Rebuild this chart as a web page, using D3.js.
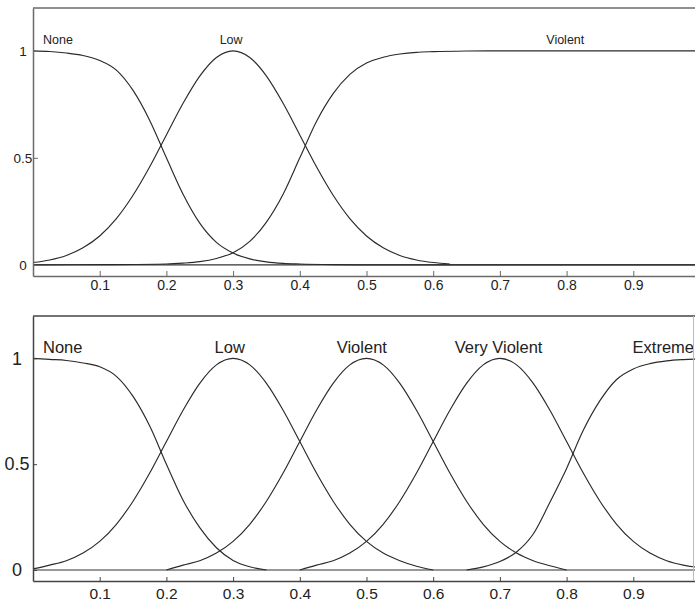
<!DOCTYPE html>
<html>
<head>
<meta charset="utf-8">
<script src="https://cdn.jsdelivr.net/npm/d3@7"></script>
<style>
    body { margin: 0; background: #fff; }
    svg { display: block; }
    text { font-family: Arial, "Liberation Sans", sans-serif; fill: #222; }
</style>
</head>
<body>
<div id="chart"></div>
<script>
// ---- data ----

// shared x ticks and y ticks
const xTicks = [0.1, 0.2, 0.3, 0.4, 0.5, 0.6, 0.7, 0.8, 0.9];
const yTicks = [0, 0.5, 1];

// top panel: three membership functions
const topNames = ["None", "Low", "Violent"];
const topLabelX = [0.015, 0.297, 0.798];   // where each name sits (x value)
const noneTopX = [0, 0.025, 0.05, 0.075, 0.1, 0.125, 0.15, 0.175, 0.2, 0.225, 0.25, 0.275, 0.3, 0.325, 0.35, 0.375, 0.4, 0.45, 0.5, 0.6, 0.7, 0.8, 0.9, 1.0];
const noneTopY = [1.0, 0.997, 0.99, 0.978, 0.955, 0.91, 0.815, 0.675, 0.5, 0.33, 0.195, 0.105, 0.055, 0.028, 0.014, 0.007, 0.004, 0.001, 0, 0, 0, 0, 0, 0];
const lowTopX = [0, 0.025, 0.05, 0.075, 0.1, 0.125, 0.15, 0.175, 0.2, 0.225, 0.25, 0.275, 0.3, 0.325, 0.35, 0.375, 0.4, 0.425, 0.45, 0.475, 0.5, 0.525, 0.55, 0.575, 0.6, 0.625];
const lowTopY = [0.011, 0.023, 0.044, 0.08, 0.135, 0.216, 0.325, 0.458, 0.607, 0.755, 0.882, 0.969, 1.0, 0.969, 0.882, 0.755, 0.607, 0.458, 0.325, 0.216, 0.135, 0.08, 0.044, 0.023, 0.011, 0.004];
const violentTopX = [0, 0.1, 0.2, 0.225, 0.25, 0.275, 0.3, 0.325, 0.35, 0.375, 0.4, 0.425, 0.45, 0.475, 0.5, 0.525, 0.55, 0.575, 0.6, 0.65, 0.7, 0.8, 0.9, 1.0];
const violentTopY = [0, 0.001, 0.004, 0.008, 0.015, 0.03, 0.057, 0.11, 0.2, 0.33, 0.5, 0.67, 0.8, 0.89, 0.943, 0.97, 0.985, 0.993, 0.996, 0.999, 1.0, 1.0, 1.0, 1.0];

// bottom panel: five membership functions
const botNames = ["None", "Low", "Violent", "Very Violent", "Extreme"];
const botLabelX = [0.015, 0.295, 0.493, 0.698, 0.945];
const noneBotX = [0, 0.025, 0.05, 0.075, 0.1, 0.125, 0.15, 0.175, 0.2, 0.225, 0.25, 0.275, 0.3, 0.325, 0.35];
const noneBotY = [1.0, 0.995, 0.99, 0.978, 0.96, 0.915, 0.82, 0.68, 0.5, 0.33, 0.2, 0.105, 0.045, 0.015, 0];
const lowBotX = [0, 0.025, 0.05, 0.075, 0.1, 0.125, 0.15, 0.175, 0.2, 0.225, 0.25, 0.275, 0.3, 0.325, 0.35, 0.375, 0.4, 0.425, 0.45, 0.475, 0.5, 0.525, 0.55, 0.575, 0.6];
const lowBotY = [0.005, 0.023, 0.044, 0.08, 0.135, 0.216, 0.325, 0.458, 0.607, 0.755, 0.882, 0.969, 1.0, 0.969, 0.882, 0.755, 0.607, 0.458, 0.325, 0.216, 0.135, 0.08, 0.044, 0.018, 0];
const violentBotX = [0.2, 0.225, 0.25, 0.275, 0.3, 0.325, 0.35, 0.375, 0.4, 0.425, 0.45, 0.475, 0.5, 0.525, 0.55, 0.575, 0.6, 0.625, 0.65, 0.675, 0.7, 0.725, 0.75, 0.775, 0.8];
const violentBotY = [0, 0.023, 0.044, 0.08, 0.135, 0.216, 0.325, 0.458, 0.607, 0.755, 0.882, 0.969, 1.0, 0.969, 0.882, 0.755, 0.607, 0.458, 0.325, 0.216, 0.135, 0.08, 0.044, 0.02, 0];
const vviolentBotX = [0.4, 0.425, 0.45, 0.475, 0.5, 0.525, 0.55, 0.575, 0.6, 0.625, 0.65, 0.675, 0.7, 0.725, 0.75, 0.775, 0.8, 0.825, 0.85, 0.875, 0.9, 0.925, 0.95, 0.975, 1.0];
const vviolentBotY = [0, 0.023, 0.044, 0.08, 0.135, 0.216, 0.325, 0.458, 0.607, 0.755, 0.882, 0.969, 1.0, 0.969, 0.882, 0.755, 0.607, 0.458, 0.325, 0.216, 0.135, 0.08, 0.044, 0.023, 0.011];
const extremeBotX = [0.65, 0.675, 0.7, 0.725, 0.75, 0.775, 0.8, 0.825, 0.85, 0.875, 0.9, 0.925, 0.95, 0.975, 1.0];
const extremeBotY = [0, 0.015, 0.04, 0.085, 0.17, 0.32, 0.48, 0.66, 0.8, 0.9, 0.95, 0.975, 0.988, 0.994, 0.997];

// ---- layout ----
const width = 695, height = 601;
const plotLeft = 33, plotRight = 700;   // x = 1 falls just past the cropped right edge

let svg = d3.select("#chart")
    .append("svg")
    .attr("width", width)
    .attr("height", height);

// zip x/y arrays into point lists
function pts(xs, ys) { return xs.map((x, i) => [x, ys[i]]); }

function drawPanel(cfg) {
    let g = svg.append("g");

    let x = d3.scaleLinear().domain([0, 1]).range([plotLeft, plotRight]);
    let y = d3.scaleLinear().domain([-0.052, 1.2]).range([cfg.bottom, cfg.top]);

    // zero line running across the panel
    g.append("line")
        .attr("x1", x(0)).attr("x2", x(1))
        .attr("y1", y(0)).attr("y2", y(0))
        .attr("stroke", "#333").attr("stroke-width", 1.1);

    let line = d3.line()
        .x(d => x(d[0]))
        .y(d => y(d[1]))
        .curve(d3.curveMonotoneX);

    g.selectAll("path.mf")
        .data(cfg.series)
        .enter()
        .append("path")
        .attr("class", "mf")
        .attr("d", d => line(d))
        .attr("fill", "none")
        .attr("stroke", "#2a2a2a")
        .attr("stroke-width", 1.15);

    // series names
    g.selectAll("text.name")
        .data(cfg.names)
        .enter()
        .append("text")
        .attr("class", "name")
        .attr("x", (d, i) => x(cfg.labelX[i]))
        .attr("y", cfg.labelY)
        .style("font-size", cfg.nameFont + "px")
        .style("text-anchor", (d, i) => i === 0 ? "start" : "middle")
        .text(d => d);

    // x axis = bottom frame, ticks pointing in
    let xAxis = g.append("g")
        .attr("transform", `translate(0, ${cfg.bottom})`)
        .call(d3.axisBottom(x).tickValues(xTicks).tickFormat(d3.format(".1f"))
            .tickSizeInner(-cfg.tickLen).tickSizeOuter(0).tickPadding(cfg.xPad));
    xAxis.select(".domain").attr("stroke", cfg.frame).attr("stroke-width", 1.5);
    xAxis.selectAll(".tick line").attr("stroke", cfg.frame);
    xAxis.selectAll("text").style("font-size", cfg.tickFont + "px").attr("fill", "#222");

    // y axis = left frame
    let yAxis = g.append("g")
        .attr("transform", `translate(${plotLeft}, 0)`)
        .call(d3.axisLeft(y).tickValues(yTicks).tickFormat(d => d === 0.5 ? "0.5" : String(d))
            .tickSizeInner(-cfg.tickLen).tickSizeOuter(0));
    yAxis.select(".domain").attr("stroke", cfg.frame).attr("stroke-width", 1.5);
    yAxis.selectAll(".tick line").attr("stroke", cfg.frame);
    yAxis.selectAll("text")
        .attr("x", cfg.yLabelX - plotLeft)
        .attr("fill", "#222")
        .style("text-anchor", "middle")
        .style("font-size", cfg.yFont + "px");

    // top frame
    g.append("line")
        .attr("x1", plotLeft).attr("x2", plotRight)
        .attr("y1", cfg.top).attr("y2", cfg.top)
        .attr("stroke", cfg.frame).attr("stroke-width", 1.5);

    if (cfg.rightEdge) {
        g.append("line")
            .attr("x1", cfg.rightEdge).attr("x2", cfg.rightEdge)
            .attr("y1", cfg.top).attr("y2", cfg.bottom)
            .attr("stroke", "#bbb").attr("stroke-width", 1);
    }
}

drawPanel({
    top: 8, bottom: 276,
    frame: "#6a6a6a",
    series: [pts(noneTopX, noneTopY), pts(lowTopX, lowTopY), pts(violentTopX, violentTopY)],
    names: topNames, labelX: topLabelX, labelY: 43.5, nameFont: 12.5,
    tickLen: 5, xPad: 4, tickFont: 14,
    yLabelX: 23, yFont: 13.5
});

drawPanel({
    top: 316, bottom: 581,
    frame: "#444",
    series: [pts(noneBotX, noneBotY), pts(lowBotX, lowBotY), pts(violentBotX, violentBotY),
             pts(vviolentBotX, vviolentBotY), pts(extremeBotX, extremeBotY)],
    names: botNames, labelX: botLabelX, labelY: 353, nameFont: 16.5,
    tickLen: 4, xPad: 7, tickFont: 15.5,
    yLabelX: 17, yFont: 18,
    rightEdge: 693.5
});
</script>
</body>
</html>
